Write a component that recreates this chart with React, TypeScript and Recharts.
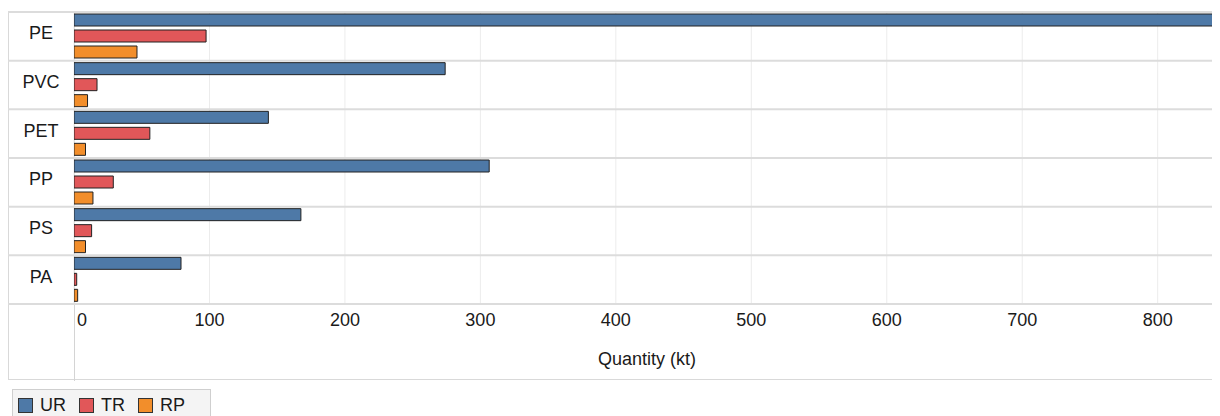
import React from 'react';
import { BarChart, Bar, XAxis, YAxis, CartesianGrid } from 'recharts';

const categories = ['PE', 'PVC', 'PET', 'PP', 'PS', 'PA'];
const urValues = [841, 274, 143.5, 306.5, 167.5, 79];
const trValues = [97.5, 17, 56, 29, 13, 2];
const rpValues = [46.5, 10, 8.5, 14, 8.5, 2.7];
const xTicks = [0, 100, 200, 300, 400, 500, 600, 700, 800];
const xMax = 846;

const series = [
  { key: 'UR', color: '#4e79a7' },
  { key: 'TR', color: '#e15759' },
  { key: 'RP', color: '#f28e2b' },
];

const data = categories.map((name, i) => ({
  name,
  UR: urValues[i],
  TR: trValues[i],
  RP: rpValues[i],
}));

const FONT = '"Liberation Sans", Arial, sans-serif';
const W = 1212;
const H = 374;
const YW = 66;

const YTick = (props: any) => {
  const { y, payload } = props;
  return (
    <text x={YW / 2} y={y + 3} textAnchor="middle" fontSize={18} fill="#1a1a1a" fontFamily={FONT}>
      {payload.value}
    </text>
  );
};

const XTick = (props: any) => {
  const { x, y, payload } = props;
  const isZero = payload.value === 0;
  return (
    <text
      x={isZero ? x + 3 : x}
      y={y + 14}
      textAnchor={isZero ? 'start' : 'middle'}
      fontSize={18}
      fill="#1a1a1a"
      fontFamily={FONT}
    >
      {payload.value}
    </text>
  );
};

export default function App() {
  return (
    <div style={{ position: 'relative', width: W, height: 408, fontFamily: FONT }}>
      <div
        style={{
          position: 'absolute',
          left: 0,
          top: 3,
          width: W + 4,
          height: 369,
          border: '1px solid #d9d9d9',
          boxSizing: 'border-box',
        }}
      />
      <div
        style={{
          position: 'absolute',
          left: YW - 0.5,
          top: 4,
          width: 1.5,
          height: 369,
          background: '#d4d4d4',
        }}
      />
      <BarChart
        width={W}
        height={H}
        data={data}
        layout="vertical"
        margin={{ top: 4, right: 0, bottom: 0, left: 0 }}
        barSize={12}
        barGap={4}
      >
        <CartesianGrid horizontal={false} stroke="#ececec" strokeWidth={1} />
        <CartesianGrid
          vertical={false}
          x={0}
          width={W}
          stroke="#dcdcdc"
          strokeWidth={2}
          horizontalCoordinatesGenerator={({ offset }: any) =>
            Array.from({ length: categories.length + 1 }, (_, i) => offset.top + (i * offset.height) / categories.length)
          }
        />
        <XAxis
          type="number"
          domain={[0, xMax]}
          ticks={xTicks}
          height={78}
          axisLine={false}
          tickLine={false}
          tick={<XTick />}
          interval={0}
          allowDataOverflow
          label={{
            value: 'Quantity (kt)',
            position: 'insideBottom',
            offset: 17,
            fontSize: 18,
            fill: '#1a1a1a',
            fontFamily: FONT,
          }}
        />
        <YAxis
          type="category"
          dataKey="name"
          width={YW}
          axisLine={false}
          tickLine={false}
          tick={<YTick />}
          interval={0}
        />
        {series.map((s) => (
          <Bar
            key={s.key}
            dataKey={s.key}
            fill={s.color}
            stroke="#222"
            strokeWidth={1}
            isAnimationActive={false}
          />
        ))}
      </BarChart>
      <div
        style={{
          position: 'absolute',
          left: 4,
          top: 381,
          width: 199,
          height: 32,
          background: '#f4f4f4',
          border: '1px solid #cfcfcf',
          boxSizing: 'border-box',
          display: 'flex',
          alignItems: 'flex-start',
          paddingLeft: 5,
          paddingTop: 7,
        }}
      >
        {series.map((s) => (
          <div key={s.key} style={{ display: 'flex', alignItems: 'center', marginRight: 13 }}>
            <div
              style={{
                width: 15,
                height: 15,
                background: s.color,
                border: '1.5px solid #333',
                boxSizing: 'border-box',
                marginRight: 7,
              }}
            />
            <span style={{ fontSize: 18, color: '#1a1a1a', lineHeight: '16px' }}>{s.key}</span>
          </div>
        ))}
      </div>
    </div>
  );
}
